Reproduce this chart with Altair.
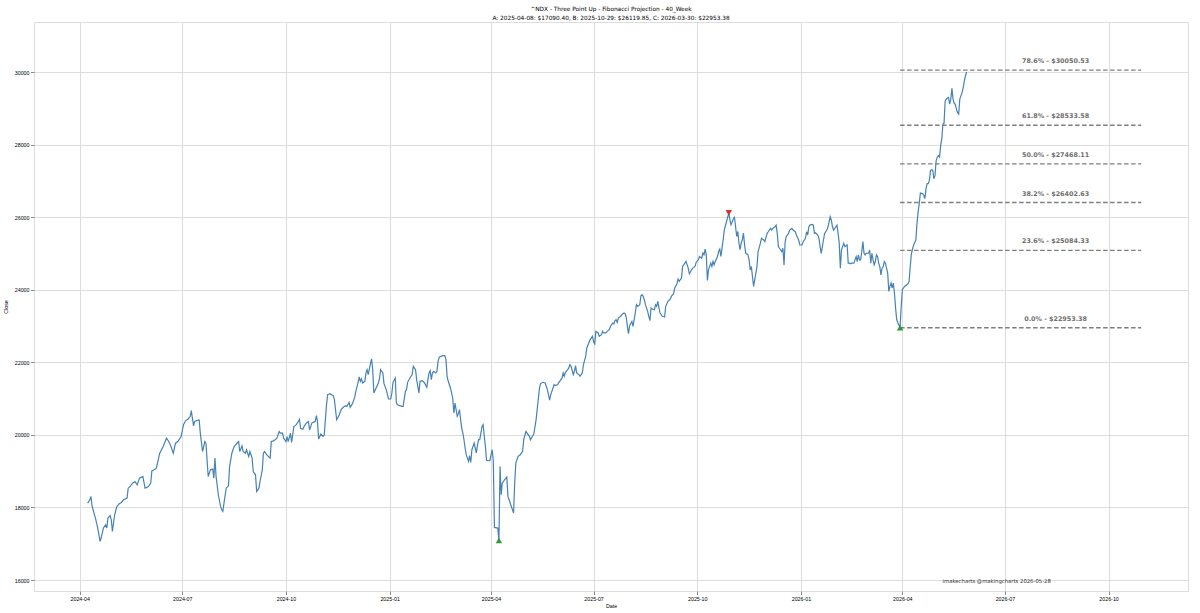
import altair as alt
import pandas as pd

# ---------------- data ----------------
dates_2024 = ["2024-04-08","2024-04-10","2024-04-11","2024-04-12","2024-04-15","2024-04-17","2024-04-19","2024-04-20",
"2024-04-22","2024-04-24","2024-04-25","2024-04-26","2024-04-28","2024-04-29","2024-04-30","2024-05-02","2024-05-04",
"2024-05-06","2024-05-08","2024-05-10","2024-05-13","2024-05-14","2024-05-16","2024-05-18","2024-05-20","2024-05-22",
"2024-05-24","2024-05-27","2024-05-29","2024-06-01","2024-06-03","2024-06-04","2024-06-06","2024-06-08","2024-06-11",
"2024-06-14","2024-06-17","2024-06-19","2024-06-21","2024-06-23","2024-06-25","2024-06-27","2024-06-30","2024-07-02",
"2024-07-04","2024-07-06","2024-07-08","2024-07-09","2024-07-11","2024-07-12","2024-07-14","2024-07-16","2024-07-17",
"2024-07-19","2024-07-21","2024-07-22","2024-07-24","2024-07-26","2024-07-28","2024-07-29","2024-07-30","2024-07-31",
"2024-08-02","2024-08-04","2024-08-05","2024-08-06","2024-08-07","2024-08-09","2024-08-11","2024-08-12","2024-08-14",
"2024-08-16","2024-08-19","2024-08-20","2024-08-21","2024-08-23","2024-08-24","2024-08-26","2024-08-27","2024-08-29",
"2024-08-30","2024-09-01","2024-09-02","2024-09-04","2024-09-05","2024-09-07","2024-09-08","2024-09-10","2024-09-11",
"2024-09-12","2024-09-14","2024-09-17","2024-09-18","2024-09-20","2024-09-23","2024-09-25","2024-09-26","2024-09-28",
"2024-09-29","2024-10-01","2024-10-02","2024-10-03","2024-10-05","2024-10-06","2024-10-08","2024-10-10","2024-10-12",
"2024-10-13","2024-10-14","2024-10-16","2024-10-17","2024-10-19","2024-10-21","2024-10-22","2024-10-24","2024-10-25",
"2024-10-27","2024-10-28","2024-10-29","2024-10-30","2024-11-01","2024-11-03","2024-11-04","2024-11-06","2024-11-07",
"2024-11-09","2024-11-12","2024-11-13","2024-11-15","2024-11-17","2024-11-19","2024-11-21","2024-11-23","2024-11-24",
"2024-11-26","2024-11-27","2024-11-29","2024-12-01","2024-12-02","2024-12-04","2024-12-05","2024-12-06","2024-12-07",
"2024-12-08","2024-12-10","2024-12-11","2024-12-12","2024-12-13","2024-12-15","2024-12-16","2024-12-17","2024-12-18",
"2024-12-20","2024-12-22","2024-12-23","2024-12-24","2024-12-26","2024-12-27","2024-12-29","2024-12-31"]
close_2024 = [18119,18210,18302,18027,17700,17431,17064,17156,
17431,17523,17431,17706,17770,17660,17339,17798,18027,
18100,18137,18210,18257,18531,18596,18669,18715,18623,
18807,18853,18531,18577,18669,19008,19036,19082,19495,
19679,19908,19816,19679,19495,19770,19816,19954,20275,
20394,20431,20504,20669,20247,20367,20394,20412,20046,
19541,19816,19770,18853,19036,19055,18807,19358,18853,
18349,18027,17936,17890,18119,18531,18596,19128,19495,
19679,19789,19816,19541,19697,19541,19495,19587,19403,
19541,19358,18990,18899,18440,18531,18715,19036,19495,
19541,19449,19358,19816,19834,19908,20091,20046,20046,
19908,19816,19954,19816,20046,19789,20229,20275,20367,
20431,20183,20156,20229,20321,20367,20137,20326,20345,
20372,20529,20372,19885,20023,19958,20004,20832,21108,
21135,21080,20970,20418,20529,20694,20768,20804,20786,
20896,20758,20860,21034,21200,21448,21595,21476,21540,
21430,21476,21706,21797,21660,21963,22092,21797,21154,
21292,21430,21540,21797,21706,21411,21246,20988]

dates_2025 = ["2025-01-02","2025-01-03","2025-01-04","2025-01-06","2025-01-07","2025-01-08","2025-01-10","2025-01-12",
"2025-01-13","2025-01-15","2025-01-16","2025-01-17","2025-01-19","2025-01-21","2025-01-22","2025-01-24","2025-01-25",
"2025-01-27","2025-01-28","2025-01-30","2025-02-01","2025-02-03","2025-02-04","2025-02-05","2025-02-06","2025-02-07",
"2025-02-08","2025-02-09","2025-02-11","2025-02-12","2025-02-13","2025-02-14","2025-02-17","2025-02-19","2025-02-20",
"2025-02-21","2025-02-22","2025-02-24","2025-02-25","2025-02-26","2025-02-27","2025-02-28","2025-03-01","2025-03-02",
"2025-03-03","2025-03-04","2025-03-05","2025-03-06","2025-03-07","2025-03-08","2025-03-09","2025-03-10","2025-03-12",
"2025-03-13","2025-03-14","2025-03-15","2025-03-16","2025-03-17","2025-03-18","2025-03-19","2025-03-20","2025-03-21",
"2025-03-22","2025-03-23","2025-03-24","2025-03-25","2025-03-26","2025-03-27","2025-03-28","2025-03-30","2025-03-31",
"2025-04-02","2025-04-03","2025-04-04","2025-04-07","2025-04-08","2025-04-09","2025-04-10","2025-04-11","2025-04-13",
"2025-04-15","2025-04-16","2025-04-17","2025-04-19","2025-04-21","2025-04-22","2025-04-23","2025-04-25","2025-04-27",
"2025-04-29","2025-04-30","2025-05-02","2025-05-03","2025-05-05","2025-05-06","2025-05-09","2025-05-11","2025-05-14",
"2025-05-15","2025-05-17","2025-05-19","2025-05-21","2025-05-22","2025-05-23","2025-05-24","2025-05-26","2025-05-27",
"2025-05-28","2025-05-30","2025-05-31","2025-06-02","2025-06-03","2025-06-04","2025-06-05","2025-06-06","2025-06-08",
"2025-06-09","2025-06-10","2025-06-11","2025-06-13","2025-06-14","2025-06-15","2025-06-16","2025-06-18","2025-06-19",
"2025-06-21","2025-06-22","2025-06-24","2025-06-25","2025-06-27","2025-06-28","2025-06-30","2025-07-01","2025-07-02",
"2025-07-03","2025-07-05","2025-07-06","2025-07-08","2025-07-09","2025-07-10","2025-07-12","2025-07-13","2025-07-15",
"2025-07-16","2025-07-18","2025-07-19","2025-07-20","2025-07-21","2025-07-22","2025-07-23","2025-07-25","2025-07-26",
"2025-07-28","2025-07-29","2025-07-30","2025-07-31","2025-08-01","2025-08-02","2025-08-04","2025-08-05","2025-08-06",
"2025-08-07","2025-08-08","2025-08-09","2025-08-11","2025-08-12","2025-08-13","2025-08-14","2025-08-15","2025-08-16",
"2025-08-18","2025-08-19","2025-08-20","2025-08-21","2025-08-22","2025-08-24","2025-08-25","2025-08-26","2025-08-27",
"2025-08-28","2025-08-29","2025-08-31","2025-09-02","2025-09-03","2025-09-05","2025-09-07","2025-09-08","2025-09-10",
"2025-09-11","2025-09-13","2025-09-14","2025-09-15","2025-09-17","2025-09-18","2025-09-20","2025-09-21","2025-09-23",
"2025-09-24","2025-09-26","2025-09-27","2025-09-29","2025-09-30","2025-10-02","2025-10-03","2025-10-05","2025-10-06",
"2025-10-07","2025-10-08","2025-10-09","2025-10-10","2025-10-11","2025-10-13","2025-10-14","2025-10-15","2025-10-16",
"2025-10-17","2025-10-19","2025-10-20","2025-10-21","2025-10-22","2025-10-23","2025-10-24","2025-10-25","2025-10-27",
"2025-10-28","2025-10-29","2025-10-30","2025-10-31","2025-11-02","2025-11-03","2025-11-04","2025-11-05","2025-11-06",
"2025-11-07","2025-11-08","2025-11-09","2025-11-10","2025-11-11","2025-11-12","2025-11-13","2025-11-15","2025-11-16",
"2025-11-17","2025-11-18","2025-11-19","2025-11-20","2025-11-21","2025-11-23","2025-11-24","2025-11-26","2025-11-27",
"2025-11-29","2025-11-30","2025-12-02","2025-12-03","2025-12-05","2025-12-06","2025-12-07","2025-12-09","2025-12-10",
"2025-12-11","2025-12-12","2025-12-13","2025-12-15","2025-12-16","2025-12-17","2025-12-18","2025-12-19","2025-12-21",
"2025-12-22","2025-12-24","2025-12-25","2025-12-27","2025-12-28","2025-12-30","2025-12-31"]
close_2025 = [20988,21154,21448,21568,20878,20832,20804,20786,
20786,21200,21246,21448,21568,21660,21889,21797,21522,
21154,21476,21494,21430,21310,21522,21706,21770,21522,
21706,21751,21706,21751,22027,22138,22184,22184,22073,
21614,21476,21292,21154,21016,20602,20878,20694,20510,
20584,20694,20418,20188,20050,19866,19637,19453,19269,
19425,19241,19591,19683,19775,19637,19499,19729,19866,
19866,20050,20234,20280,19958,19683,19296,19287,19296,
19591,19296,17448,17430,17090.40,19131,18349,18671,18763,
18837,18304,18212,18027,17844,18671,19223,19407,19453,
19545,19866,20096,20050,19958,19866,20027,20422,21293,
21413,21449,21431,21248,21110,20954,21110,21293,21385,
21358,21385,21431,21523,21569,21706,21615,21725,21798,
21844,21936,21890,21660,21752,21908,21706,21660,21615,
21706,21936,22165,22395,22550,22624,22716,22578,22486,
22853,22808,22716,22762,22853,22808,22808,22853,22899,
22991,23082,23055,23147,23174,23101,23220,23266,23312,
23358,23339,23238,22991,22789,23009,23128,22991,23174,
23358,23587,23541,23587,23835,23862,23816,23725,23587,
23404,23266,23147,23496,23468,23450,23587,23541,23679,
23496,23358,23266,23248,23541,23679,23743,23816,23890,
24046,24165,24293,24229,24321,24642,24734,24780,24596,
24440,24550,24596,24642,24752,24826,24917,24871,25009,
24963,25119,24963,24257,24550,24734,24642,24780,24688,
24780,24917,25055,25119,24917,25147,25376,25651,25880,
26000,26119.85,25926,25789,25945,25991,25743,25468,25605,
25284,25101,25284,25376,25560,25238,25009,24963,24826,
24548,24639,24365,24091,24274,24639,25050,25278,25416,
25370,25324,25553,25598,25690,25644,25690,25735,25781,
25553,25187,25142,25050,25142,24685,25324,25461,25553,
25644,25690,25644,25598,25507,25370,25233]

dates_2026 = ["2026-01-02","2026-01-03","2026-01-05","2026-01-06","2026-01-07","2026-01-08","2026-01-09","2026-01-11",
"2026-01-12","2026-01-13","2026-01-14","2026-01-16","2026-01-17","2026-01-18","2026-01-19","2026-01-21","2026-01-22",
"2026-01-24","2026-01-25","2026-01-27","2026-01-28","2026-01-29","2026-01-30","2026-02-01","2026-02-02","2026-02-03",
"2026-02-04","2026-02-05","2026-02-06","2026-02-07","2026-02-08","2026-02-09","2026-02-11","2026-02-12","2026-02-13",
"2026-02-14","2026-02-15","2026-02-17","2026-02-18","2026-02-19","2026-02-20","2026-02-21","2026-02-22","2026-02-23",
"2026-02-24","2026-02-25","2026-02-26","2026-02-27","2026-02-28","2026-03-02","2026-03-03","2026-03-04","2026-03-05",
"2026-03-06","2026-03-07","2026-03-08","2026-03-09","2026-03-10","2026-03-11","2026-03-12","2026-03-13","2026-03-14",
"2026-03-15","2026-03-16","2026-03-17","2026-03-19","2026-03-20","2026-03-21","2026-03-22","2026-03-23","2026-03-24",
"2026-03-25","2026-03-26","2026-03-27","2026-03-28","2026-03-30","2026-03-31","2026-04-01","2026-04-03","2026-04-06",
"2026-04-07","2026-04-08","2026-04-09","2026-04-10","2026-04-11","2026-04-13","2026-04-14","2026-04-15","2026-04-16",
"2026-04-17","2026-04-19","2026-04-20","2026-04-21","2026-04-22","2026-04-23","2026-04-24","2026-04-25","2026-04-26",
"2026-04-27","2026-04-28","2026-04-29","2026-04-30","2026-05-01","2026-05-02","2026-05-03","2026-05-04","2026-05-05",
"2026-05-06","2026-05-07","2026-05-08","2026-05-09","2026-05-10","2026-05-11","2026-05-12","2026-05-13","2026-05-14",
"2026-05-15","2026-05-16","2026-05-17","2026-05-18","2026-05-19","2026-05-20","2026-05-21","2026-05-22","2026-05-23",
"2026-05-24","2026-05-25","2026-05-26","2026-05-27","2026-05-28"]
close_2026 = [25233,25324,25416,25598,25507,25735,25781,25799,
25781,25553,25571,25507,25416,25187,25004,25370,25553,
25644,25735,26009,25918,25735,25644,25735,25781,25553,
25278,24594,25096,25187,25278,25187,25233,24731,24731,
24712,24731,24731,24822,24913,24776,24959,24822,24822,
25050,25324,25005,24959,25005,25005,25096,24731,25005,
24822,24685,24776,24959,24913,24731,24639,24411,24594,
24639,24776,24731,24457,23954,24091,24183,24046,24183,
23909,23498,23178,23087,22953.38,23543,24000,24091,24164,
24228,24639,24986,25114,25233,25370,25827,26146,26374,
26667,26648,26603,26511,26785,26922,26922,27013,27287,
27306,27287,27059,27150,27561,27653,27698,27653,27972,
28155,28566,28584,29205,29251,29278,29297,29114,29251,
29552,29251,29132,29114,28977,28886,28840,29251,29342,
29433,29570,29753,29890,30000]

# three-point pattern
abc_names = ["A", "B", "C"]
abc_dates = ["2025-04-08", "2025-10-29", "2026-03-30"]
abc_prices = [17090.40, 26119.85, 22953.38]
abc_kind = ["low", "high", "low"]

# Fibonacci projection levels
fib_pct = ["0.0%", "23.6%", "38.2%", "50.0%", "61.8%", "78.6%"]
fib_prices = [22953.38, 25084.33, 26402.63, 27468.11, 28533.58, 30050.53]
fib_start = "2026-03-30"
fib_end = "2026-10-30"
fib_label_date = "2026-08-15"

x_ticks = ["2024-04-01", "2024-07-01", "2024-10-01", "2025-01-01", "2025-04-01", "2025-07-01",
           "2025-10-01", "2026-01-01", "2026-04-01", "2026-07-01", "2026-10-01"]
y_ticks = [16000, 18000, 20000, 22000, 24000, 26000, 28000, 30000]
x_domain = ["2024-02-20T10:00:00", "2026-12-10T12:00:00"]
y_domain = [15697, 31378]

title_lines = ["^NDX - Three Point Up - Fibonacci Projection - 40_Week",
               "A: 2025-04-08: $17090.40, B: 2025-10-29: $26119.85, C: 2026-03-30: $22953.38"]
watermark = "imakecharts @makingcharts 2026-05-28"

# ---------------- frames ----------------
price = pd.DataFrame({
    "Date": pd.to_datetime(dates_2024 + dates_2025 + dates_2026),
    "Close": close_2024 + close_2025 + close_2026,
})
abc = pd.DataFrame({"Date": pd.to_datetime(abc_dates), "Close": abc_prices,
                    "Kind": abc_kind, "Name": abc_names})
fib = pd.DataFrame({
    "Date": pd.to_datetime([fib_start] * len(fib_prices)),
    "End": pd.to_datetime([fib_end] * len(fib_prices)),
    "LabelDate": pd.to_datetime([fib_label_date] * len(fib_prices)),
    "Close": fib_prices,
    "Label": [f"{p} - ${v:.2f}" for p, v in zip(fib_pct, fib_prices)],
})

FONT = "DejaVu Sans"
xscale = alt.Scale(domain=x_domain, nice=False)
yscale = alt.Scale(domain=y_domain, nice=False, zero=False)

xaxis = alt.Axis(
    title="Date", format="%Y-%m",
    values=[alt.DateTime(year=int(d[:4]), month=int(d[5:7]), date=1) for d in x_ticks],
    labelFontSize=5.3, titleFontSize=5.3, titleFontWeight="normal",
    tickSize=3.5, labelPadding=2, titlePadding=2, grid=True, domain=False,
)
yaxis = alt.Axis(
    title="Close", format="d", values=y_ticks,
    labelFontSize=5.3, titleFontSize=5.3, titleFontWeight="normal",
    tickSize=3.5, labelPadding=1.5, titlePadding=6, grid=True, domain=False,
)

line = alt.Chart(price).mark_line(color="#4682b4", strokeWidth=1.2).encode(
    x=alt.X("Date:T", scale=xscale, axis=xaxis),
    y=alt.Y("Close:Q", scale=yscale, axis=yaxis),
)

rules = alt.Chart(fib).mark_rule(color="#7f7f7f", strokeWidth=1.4, strokeDash=[4.5, 2.5]).encode(
    x=alt.X("Date:T", scale=xscale, axis=xaxis),
    x2="End:T",
    y=alt.Y("Close:Q", scale=yscale, axis=yaxis),
)

labels = alt.Chart(fib).mark_text(
    font=FONT, fontSize=6.4, fontWeight="bold", color="#707070",
    align="center", baseline="middle", dy=-9,
).encode(
    x=alt.X("LabelDate:T", scale=xscale, axis=xaxis),
    y=alt.Y("Close:Q", scale=yscale, axis=yaxis),
    text="Label:N",
)

points = alt.Chart(abc).mark_point(filled=True, size=42, opacity=1).encode(
    x=alt.X("Date:T", scale=xscale, axis=xaxis),
    y=alt.Y("Close:Q", scale=yscale, axis=yaxis),
    shape=alt.Shape("Kind:N", scale=alt.Scale(domain=["low", "high"],
                                              range=["triangle-up", "triangle-down"]), legend=None),
    color=alt.Color("Kind:N", scale=alt.Scale(domain=["low", "high"],
                                              range=["#2f9a3a", "#d9302c"]), legend=None),
)

mark_text = alt.Chart(pd.DataFrame({"t": [watermark]})).mark_text(
    font=FONT, fontSize=5.3, color="#333333", align="center", baseline="middle",
).encode(x=alt.value(962.7), y=alt.value(559), text="t:N")

chart = alt.layer(line, rules, labels, points, mark_text).properties(
    width=1154, height=569,
    title=alt.TitleParams(text=title_lines, fontSize=5.8, font=FONT, fontWeight="normal",
                          color="#000000", anchor="middle", offset=1.5, lineHeight=8.8),
    autosize=alt.AutoSizeParams(type="none"),
    padding={"left": 34, "top": 22, "right": 12, "bottom": 22},
).configure_view(
    stroke="#3a3a3a", strokeWidth=0.9,
).configure_axis(
    labelFont=FONT, titleFont=FONT, labelColor="#222222", titleColor="#222222",
    tickColor="#444444", tickWidth=0.8, gridColor="#e4e4e4", gridOpacity=0.55, gridWidth=0.7,
).configure(background="white")

chart.save("out.html", embed_options={"renderer": "svg", "actions": False})
